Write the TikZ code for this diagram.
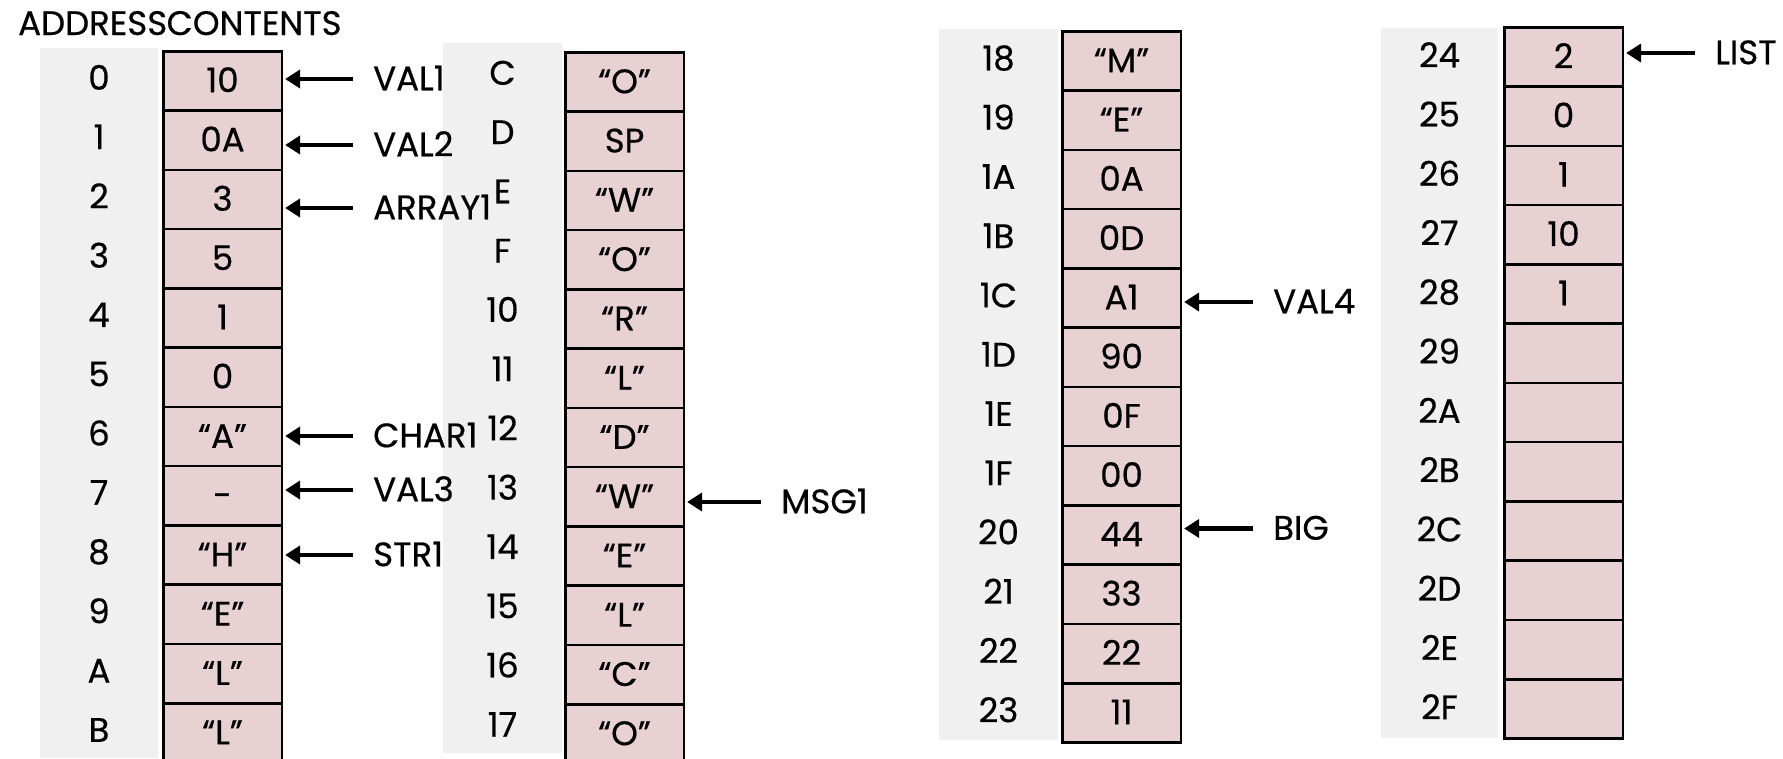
\documentclass[tikz,border=0pt]{standalone}
\usepackage{fontspec}
\setmainfont{Poppins}[FakeBold=0.5]
\usetikzlibrary{arrows.meta}
\definecolor{cellpink}{RGB}{232,209,210}
\definecolor{addrgray}{RGB}{240,240,240}

\begin{document}
\begin{tikzpicture}[x=1pt,y=-1pt,
  txt/.style={font=\fontsize{34}{40}\selectfont, inner sep=0pt, text height=22.5pt, text depth=0pt},
  cell/.style={txt, draw=black, line width=2.6pt, fill=cellpink,
               minimum width=118.5pt, minimum height=59.27pt, anchor=north west},
  addr/.style={txt},
  tag/.style={txt, anchor=west},
  ptr/.style={line width=4.5pt, -{Triangle[length=15pt,width=18pt]}}
]
\useasboundingbox (0,0) rectangle (1783,758);

% address backgrounds
\fill[addrgray] (40,48)    rectangle (158,758);
\fill[addrgray] (443,43)   rectangle (562,753);
\fill[addrgray] (939,29)   rectangle (1058,740);
\fill[addrgray] (1381,28)  rectangle (1498,738);

% headings
\node[txt, anchor=base west] (hAddr) at (18,35) {ADDRESS};
\node[txt, anchor=base west] (hCont) at ([xshift=-1pt]hAddr.base east) {CONTENTS};

% memory column 0 .. B
\foreach \a/\c [count=\i from 0] in {0/10,1/0A,2/3,3/5,4/1,5/0,6/“A”,7/-,8/“H”,9/“E”,A/“L”,B/“L”}{
  \node[cell] (c-\a) at (162,50+\i*59.27) {\c};
  \node[addr] (a-\a) at (99,50+\i*59.27+28.6) {\a};
}
% memory column C .. 17
\foreach \a/\c [count=\i from 0] in {C/“O”,D/SP,E/“W”,F/“O”,10/“R”,11/“L”,12/“D”,13/“W”,14/“E”,15/“L”,16/“C”,17/“O”}{
  \node[cell] (c-\a) at (564,51+\i*59.27) {\c};
  \node[addr] (a-\a) at (502.5,51+\i*59.27+22.5) {\a};
}
% memory column 18 .. 23
\foreach \a/\c [count=\i from 0] in {18/“M”,19/“E”,1A/0A,1B/0D,1C/A1,1D/90,1E/0F,1F/00,20/44,21/33,22/22,23/11}{
  \node[cell] (c-\a) at (1061,30+\i*59.27) {\c};
  \node[addr] (a-\a) at (998.5,30+\i*59.27+29) {\a};
}
% memory column 24 .. 2F
\foreach \a/\c [count=\i from 0] in {24/2,25/0,26/1,27/10,28/1,29/{},2A/{},2B/{},2C/{},2D/{},2E/{},2F/{}}{
  \node[cell] (c-\a) at (1503,26+\i*59.27) {\c};
  \node[addr] (a-\a) at (1439.5,26+\i*59.27+30) {\a};
}

% symbolic names
\node[tag] (VAL1)   at (373,79)    {VAL1};
\node[tag] (VAL2)   at (373,145)   {VAL2};
\node[tag] (ARRAY1) at (373,208)   {ARRAY1};
\node[tag] (CHAR1)  at (373,436)   {CHAR1};
\node[tag] (VAL3)   at (373,490)   {VAL3};
\node[tag] (STR1)   at (373,555)   {STR1};
\node[tag] (MSG1)   at (781,502)   {MSG1};
\node[tag] (VAL4)   at (1273,302)  {VAL4};
\node[tag] (BIG)    at (1273,528.5){BIG};
\node[tag] (LIST)   at (1715,53)   {LIST};

% pointers
\foreach \n/\t in {VAL1/0,VAL2/1,ARRAY1/2,CHAR1/6,VAL3/7,STR1/8,MSG1/13,VAL4/1C,BIG/20,LIST/24}{
  \draw[ptr] ([xshift=-20pt]\n.west) -- ([xshift=2pt]c-\t.east |- \n.west);
}
\end{tikzpicture}
\end{document}
